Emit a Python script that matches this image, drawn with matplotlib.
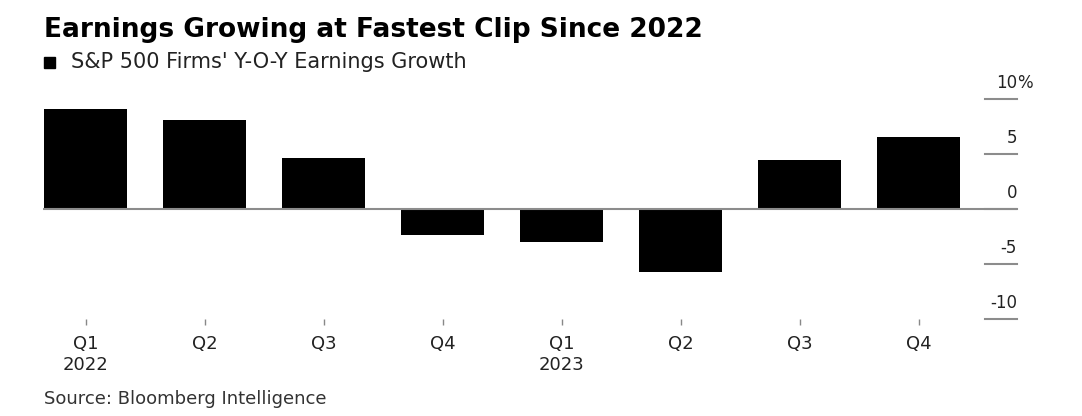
import matplotlib
matplotlib.use("Agg")
import matplotlib.pyplot as plt
from matplotlib.patches import Rectangle
import matplotlib.transforms as mtransforms

# ---- data ----
quarters = ["Q1", "Q2", "Q3", "Q4", "Q1", "Q2", "Q3", "Q4"]
years = ["2022", "", "", "", "2023", "", "", ""]
growth = [9.05, 8.05, 4.65, -2.4, -3.0, -5.75, 4.5, 6.55]
ytick_values = [10, 5, 0, -5, -10]
ytick_labels = ["10", "5", "0", "-5", "-10"]

title = "Earnings Growing at Fastest Clip Since 2022"
subtitle = "S&P 500 Firms' Y-O-Y Earnings Growth"
source = "Source: Bloomberg Intelligence"

W, H = 1082, 416
fig = plt.figure(figsize=(W / 100, H / 100), dpi=100)
plt.rcParams['font.family'] = ['DejaVu Sans']

def fx(px):
    return px / W

def fy(py):
    return 1 - py / H

# axes: x px 43..1017, y px 99 (=10) .. 319 (=-10)
ax = fig.add_axes([fx(43), fy(319), fx(1017) - fx(43), fy(99) - fy(319)])
x = list(range(len(growth)))
ax.bar(x, growth, width=0.70, color="black", zorder=3)
ax.set_xlim(-0.359, 7.826)
ax.set_ylim(-10, 10)

for s in ax.spines.values():
    s.set_visible(False)

grid_col = "#8c8c8c"
ax.axhline(0, color=grid_col, lw=1.5, zorder=4)
trans = mtransforms.blended_transform_factory(ax.transAxes, ax.transData)
for v, lab in zip(ytick_values, ytick_labels):
    ax.plot([0.967, 1.0], [v, v], transform=trans, color=grid_col,
            lw=1.5, clip_on=False, zorder=2)
    ax.text(1.0, v + 1.45, lab, transform=trans, ha="right", va="center",
            fontsize=12, color="#222222", clip_on=False)
    if v == max(ytick_values):
        ax.text(1.0, v + 1.45, "%", transform=trans, ha="left", va="center",
                fontsize=12, color="#222222", clip_on=False)

ax.set_yticks([])
ax.set_xticks(x)
ax.set_xticklabels([q + ("\n" + y if y else "") for q, y in zip(quarters, years)],
                   fontsize=13, color="#222222", va="top", linespacing=1.2)
ax.tick_params(axis="x", direction="out", length=4.5, width=1.0,
               color="#888888", pad=7)

# title & subtitle
fig.text(fx(44), fy(30), title, fontsize=19, fontweight="bold",
         color="black", ha="left", va="center")
fig.patches.append(Rectangle((fx(44), fy(68)), fx(11), 11 / H,
                             transform=fig.transFigure, color="black"))
fig.text(fx(71), fy(62), subtitle, fontsize=15, color="#222222",
         ha="left", va="center")
fig.text(fx(44), fy(399), source, fontsize=13, color="#333333",
         ha="left", va="center")

fig.savefig("out.png", dpi=100)
